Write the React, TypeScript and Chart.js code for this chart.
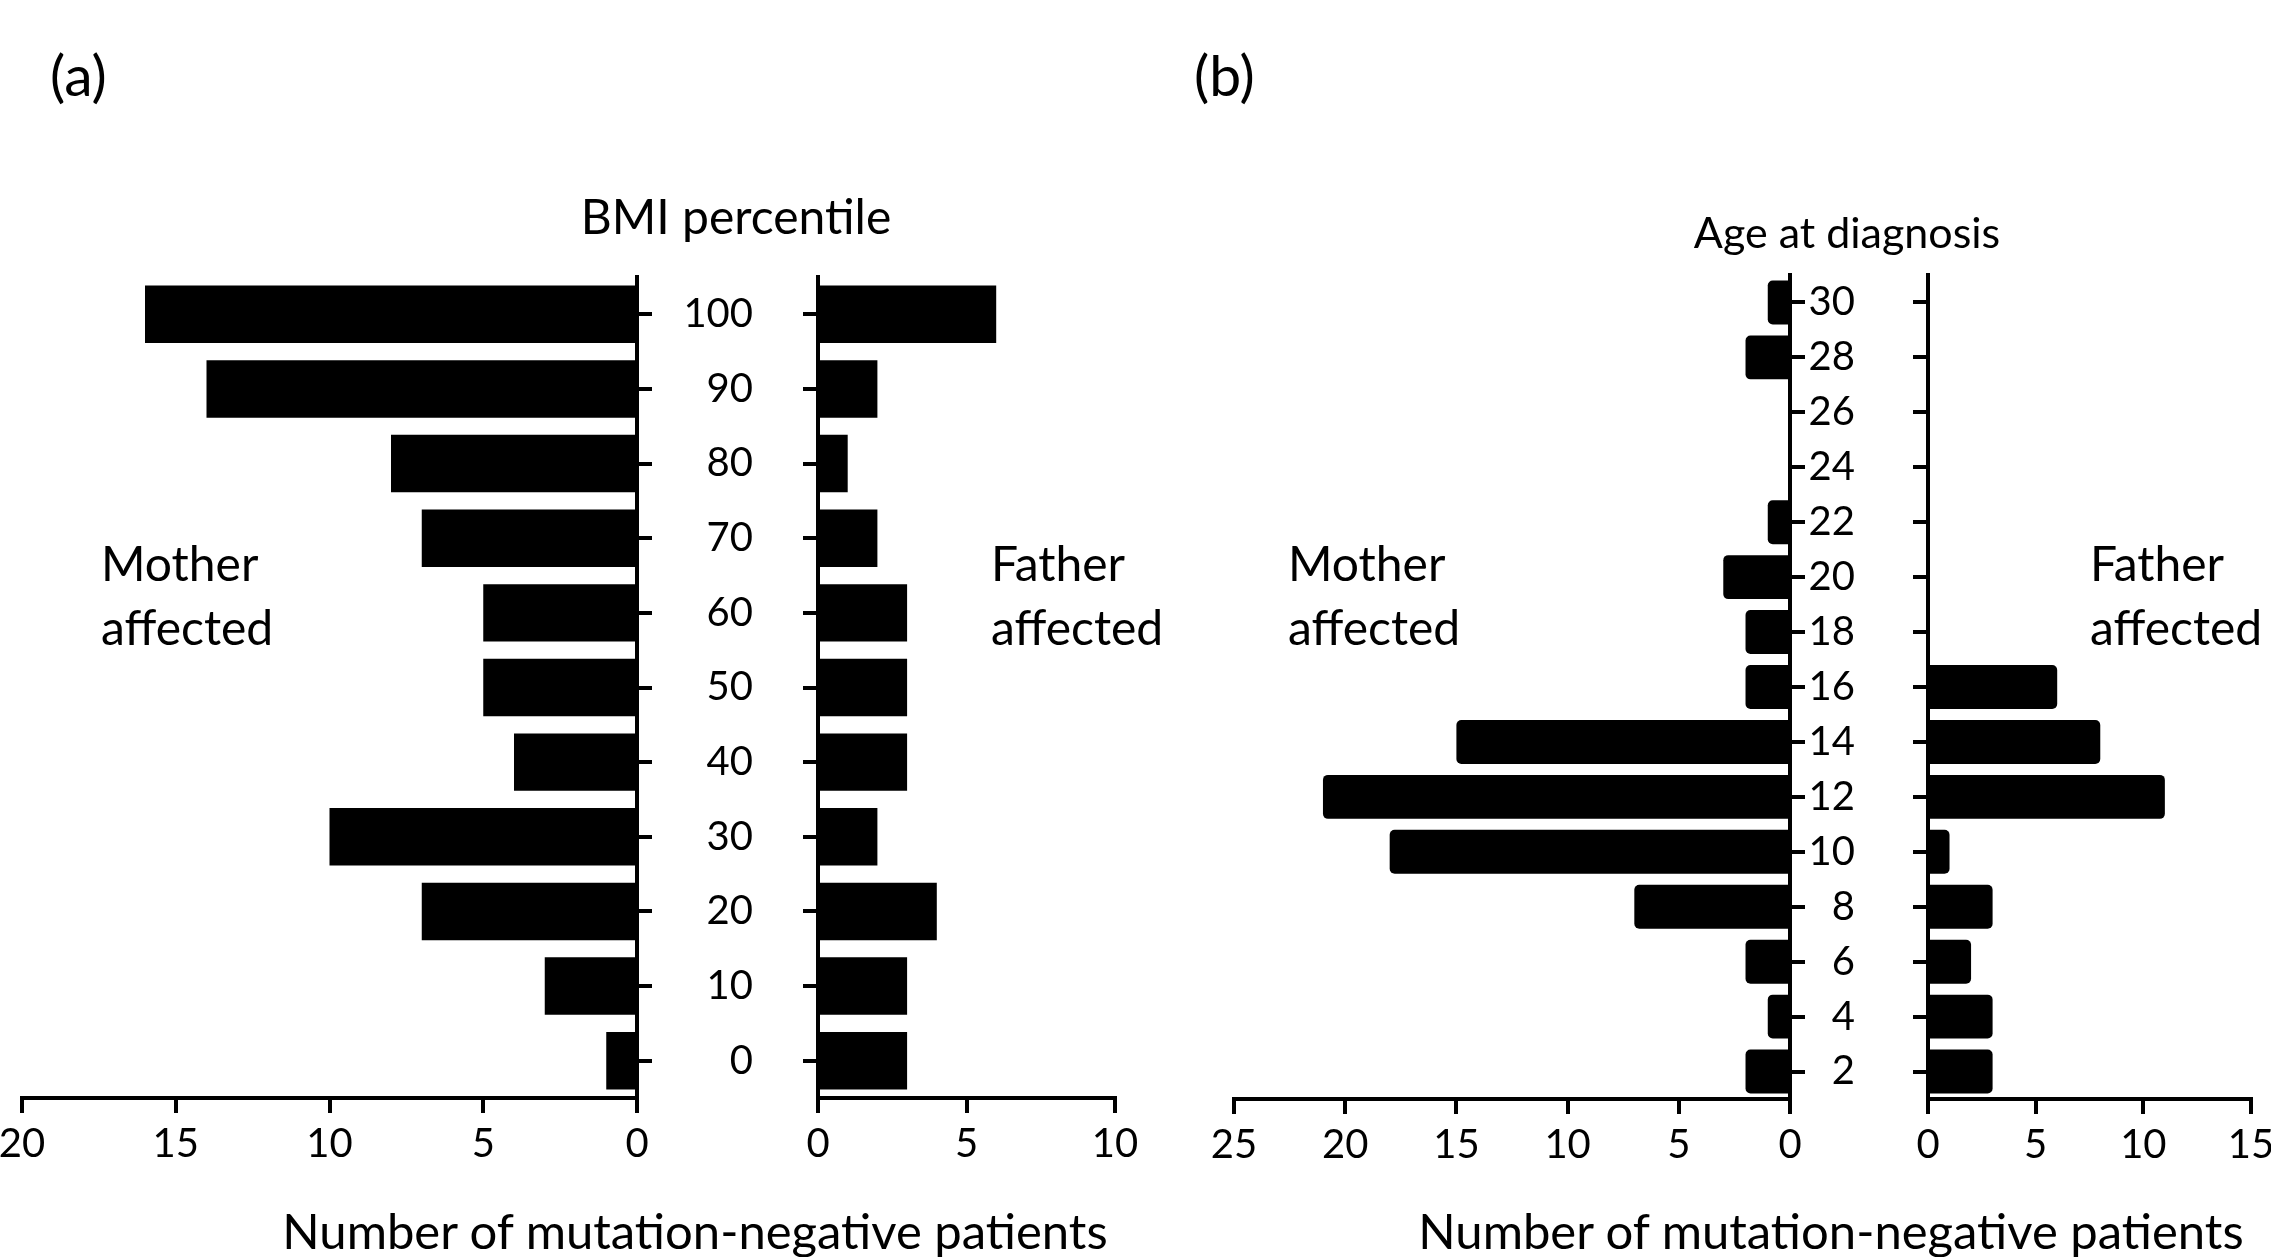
import React, { useEffect, useRef } from 'react';
import { Chart, registerables } from 'chart.js';

Chart.register(...registerables);

const W = 2271;
const H = 1257;
const FONT = 'Lato, "Open Sans", "DejaVu Sans", sans-serif';

// ---- data ----
const bmiLabels = ['100', '90', '80', '70', '60', '50', '40', '30', '20', '10', '0'];
const bmiMother = [16, 14, 8, 7, 5, 5, 4, 10, 7, 3, 1];
const bmiFather = [6, 2, 1, 2, 3, 3, 3, 2, 4, 3, 3];

const ageLabels = ['30', '28', '26', '24', '22', '20', '18', '16', '14', '12', '10', '8', '6', '4', '2'];
const ageMother = [1, 2, 0, 0, 1, 3, 2, 2, 15, 21, 18, 7, 2, 1, 2];
const ageFather = [0, 0, 0, 0, 0, 0, 0, 6, 8, 11, 1, 3, 2, 3, 3];

const bmiMotherMax = 20;
const bmiFatherMax = 10;
const ageMotherMax = 25;
const ageFatherMax = 15;

interface Spec {
  labels: string[];
  values: number[];
  max: number;
  reverse: boolean;
  area: { left: number; right: number; top: number; bottom: number };
  showYLabels: boolean;
  yw: number;
  barPct: number;
  radius: number;
}

const XH = 100;

function buildConfig(p: Spec): any {
  const YW = p.yw;
  const padding = p.reverse
    ? { left: p.area.left, right: W - p.area.right - YW, top: p.area.top, bottom: H - p.area.bottom - XH }
    : { left: p.area.left - YW, right: W - p.area.right, top: p.area.top, bottom: H - p.area.bottom - XH };
  const tickFont = { family: FONT, size: 40 };
  return {
    type: 'bar',
    data: {
      labels: p.labels,
      datasets: [
        {
          data: p.values,
          backgroundColor: '#000',
          borderWidth: 0,
          barPercentage: p.barPct,
          categoryPercentage: 1,
          borderRadius: p.radius,
          borderSkipped: 'start',
          inflateAmount: 0,
        },
      ],
    },
    options: {
      indexAxis: 'y',
      animation: false,
      responsive: false,
      maintainAspectRatio: false,
      events: [],
      layout: { padding },
      plugins: { legend: { display: false }, tooltip: { enabled: false }, title: { display: false } },
      scales: {
        x: {
          type: 'linear',
          position: 'bottom',
          reverse: p.reverse,
          min: 0,
          max: p.max,
          ticks: { stepSize: 5, font: tickFont, color: '#000', padding: 7, maxRotation: 0, autoSkip: false },
          grid: { drawOnChartArea: false, drawTicks: true, tickLength: 15, tickWidth: 4, tickColor: '#000', color: '#000', lineWidth: 4 },
          border: { display: true, color: '#000', width: 4 },
          afterFit: (s: any) => {
            s.height = XH;
            s.paddingLeft = 0;
            s.paddingRight = 0;
          },
        },
        y: {
          type: 'category',
          position: p.reverse ? 'right' : 'left',
          offset: true,
          ticks: {
            display: p.showYLabels,
            font: tickFont,
            color: '#000',
            padding: 2,
            crossAlign: 'far',
            autoSkip: false,
          },
          grid: { offset: false, drawOnChartArea: false, drawTicks: true, tickLength: 15, tickWidth: 4, tickColor: '#000', color: '#000', lineWidth: 4 },
          border: { display: true, color: '#000', width: 4 },
          afterFit: (s: any) => {
            s.width = YW;
            s.paddingTop = 0;
            s.paddingBottom = 0;
          },
        },
      },
    },
  };
}

const specs: Spec[] = [
  {
    labels: bmiLabels, values: bmiMother, max: bmiMotherMax, reverse: true,
    area: { left: 22, right: 637, top: 277, bottom: 1098 },
    showYLabels: true, yw: 116, barPct: 0.77, radius: 0,
  },
  {
    labels: bmiLabels, values: bmiFather, max: bmiFatherMax, reverse: false,
    area: { left: 818, right: 1115, top: 277, bottom: 1098 },
    showYLabels: false, yw: 60, barPct: 0.77, radius: 0,
  },
  {
    labels: ageLabels, values: ageMother, max: ageMotherMax, reverse: true,
    area: { left: 1234, right: 1790, top: 275, bottom: 1099 },
    showYLabels: true, yw: 65, barPct: 0.8, radius: 5,
  },
  {
    labels: ageLabels, values: ageFather, max: ageFatherMax, reverse: false,
    area: { left: 1928, right: 2251, top: 275, bottom: 1099 },
    showYLabels: false, yw: 40, barPct: 0.8, radius: 5,
  },
];

function ChartCanvas({ spec }: { spec: Spec }) {
  const ref = useRef<HTMLCanvasElement>(null);
  useEffect(() => {
    let chart: Chart | null = null;
    let cancelled = false;
    const make = () => {
      if (cancelled || !ref.current) return;
      chart = new Chart(ref.current, buildConfig(spec));
    };
    const fonts: any = (document as any).fonts;
    if (fonts && fonts.load) {
      fonts.load('40px Lato').then(make, make);
    } else {
      make();
    }
    return () => {
      cancelled = true;
      if (chart) chart.destroy();
    };
  }, [spec]);
  return (
    <canvas
      ref={ref}
      width={W}
      height={H}
      style={{ position: 'absolute', left: 0, top: 0, width: W, height: H }}
    />
  );
}

function Text({ x, y, size, children, center, lh }: { x: number; y: number; size: number; children: React.ReactNode; center?: boolean; lh?: number }) {
  return (
    <div
      style={{
        position: 'absolute',
        left: x,
        top: y,
        fontSize: size,
        lineHeight: `${lh ?? size}px`,
        whiteSpace: 'pre',
        color: '#000',
        transform: center ? 'translateX(-50%)' : undefined,
      }}
    >
      {children}
    </div>
  );
}

export default function App() {
  return (
    <div
      style={{
        position: 'absolute',
        left: 0,
        top: 0,
        width: W,
        height: H,
        background: '#fff',
        overflow: 'hidden',
        fontFamily: FONT,
      }}
    >
      {specs.map((s, i) => (
        <ChartCanvas key={i} spec={s} />
      ))}
      <Text x={50} y={46} size={57}>(a)</Text>
      <Text x={1194} y={46} size={57}>(b)</Text>
      <Text x={736} y={192} size={48} center>BMI percentile</Text>
      <Text x={1847} y={210} size={43} center>Age at diagnosis</Text>
      <Text x={101} y={531} size={48} lh={64}>{'Mother\naffected'}</Text>
      <Text x={991} y={531} size={48} lh={64}>{'Father\naffected'}</Text>
      <Text x={1288} y={531} size={48} lh={64}>{'Mother\naffected'}</Text>
      <Text x={2090} y={531} size={48} lh={64}>{'Father\naffected'}</Text>
      <Text x={695} y={1206} size={49} center>Number of mutation-negative patients</Text>
      <Text x={1831} y={1206} size={49} center>Number of mutation-negative patients</Text>
    </div>
  );
}
